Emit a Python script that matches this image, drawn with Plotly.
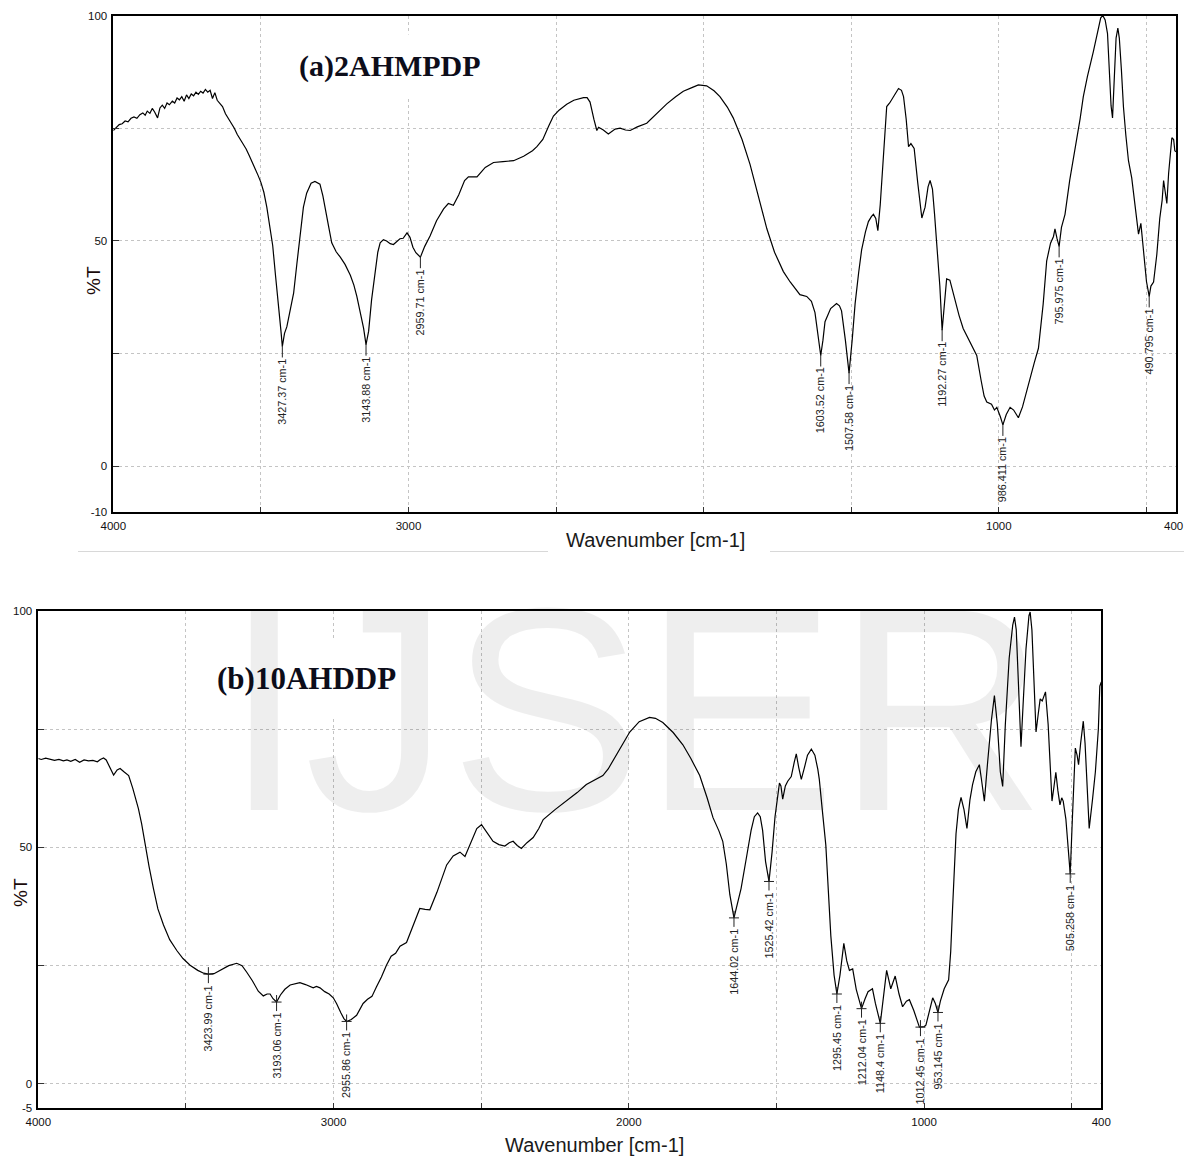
import numpy as np
import plotly.graph_objects as go

# ---------------- (a) 2AHMPDP spectrum ----------------
wn_a = [4000, 3990, 3980, 3970, 3960, 3950, 3940, 3930, 3920, 3910, 3900, 3892, 3885, 3876,
        3868, 3860, 3850, 3842, 3834, 3826, 3818, 3810, 3800, 3792, 3784, 3776, 3768, 3760,
        3752, 3744, 3736, 3728, 3720, 3712, 3704, 3696, 3688, 3680, 3672, 3664, 3656, 3648,
        3640, 3630, 3620, 3610, 3600, 3590, 3580, 3570, 3560, 3550, 3540, 3530, 3520, 3510,
        3500, 3490, 3480, 3470, 3460, 3450, 3440, 3432, 3427.37, 3420, 3412, 3400, 3389, 3378,
        3367, 3356, 3345, 3330, 3317, 3300, 3290, 3282, 3270, 3260, 3245, 3231, 3215, 3197,
        3185, 3175, 3162, 3152, 3143.88, 3135, 3125, 3113, 3104, 3096, 3085, 3074, 3062, 3051,
        3040, 3029, 3018, 3005, 2995, 2985, 2975, 2959.71, 2945, 2927, 2905, 2881, 2865, 2848,
        2830, 2810, 2797, 2768, 2740, 2712, 2680, 2644, 2610, 2580, 2565, 2545, 2525, 2509,
        2490, 2464, 2440, 2407, 2395, 2385, 2372, 2362, 2356, 2351, 2340, 2323, 2300, 2283,
        2265, 2249, 2225, 2193, 2160, 2125, 2095, 2069, 2040, 2018, 1990, 1965, 1945, 1920,
        1900, 1870, 1843, 1815, 1786, 1760, 1730, 1707, 1690, 1674, 1651, 1635, 1623, 1612,
        1603.52, 1596, 1589, 1570, 1550, 1540, 1533, 1520, 1507.58, 1497, 1487, 1475, 1465,
        1452, 1442, 1432, 1425, 1417, 1410, 1402, 1397, 1388, 1380, 1370, 1357, 1340, 1330,
        1323, 1314, 1306, 1298, 1287, 1275, 1261, 1250, 1240, 1233, 1225, 1218, 1210, 1200,
        1192.27, 1185, 1177, 1166, 1150, 1135, 1121, 1100, 1090, 1075, 1060, 1050, 1041, 1025,
        1015, 1007, 995, 986.411, 975, 962, 950, 934, 920, 905, 895, 880, 866, 850, 838, 825,
        815, 810, 803, 795.975, 788, 776, 760, 740, 725, 714, 700, 680, 665, 655, 648, 640,
        632, 626, 620, 615, 610, 603, 597, 592, 585, 578, 570, 561, 550, 540, 530, 527, 519,
        510, 500, 490.795, 485, 476, 465, 455, 447, 442, 436, 431, 425, 418, 414, 408, 404, 400]
t_a = [74.5, 75.2, 75.8, 76.0, 76.6, 76.4, 77.2, 77.5, 77.2, 78.0, 78.4, 77.9, 78.8, 78.3,
       79.4, 78.6, 77.3, 79.5, 80.1, 79.4, 80.6, 80.2, 81.0, 80.6, 81.7, 81.3, 82.0, 81.0,
       82.4, 81.6, 82.6, 82.2, 83.0, 82.5, 83.2, 82.8, 83.6, 83.0, 83.4, 81.6, 82.9, 81.2,
       80.6, 79.8, 78.2, 77.2, 76.0, 75.0, 73.6, 72.6, 71.4, 70.4, 69.0, 67.6, 66.2, 64.6,
       63.0, 60.8, 57.5, 53.5, 49.0, 42.0, 36.1, 30.0, 26.6, 29.5, 31.0, 35.0, 38.5, 45.0,
       51.9, 57.5, 60.6, 62.8, 63.2, 62.6, 60.0, 57.5, 53.0, 49.6, 47.6, 46.4, 44.8, 42.4,
       40.2, 37.7, 34.0, 30.6, 27.0, 30.0, 37.0, 43.2, 47.5, 49.6, 50.3, 50.0, 49.4, 49.2,
       49.8, 50.5, 50.6, 51.8, 50.8, 48.6, 47.4, 46.4, 48.8, 51.1, 54.5, 57.1, 58.3, 57.9,
       60.2, 63.4, 64.2, 64.2, 66.3, 67.4, 67.6, 67.8, 68.8, 70.0, 70.9, 72.5, 75.5, 77.7,
       79.0, 80.3, 81.2, 81.8, 81.8, 80.8, 77.0, 74.5, 75.2, 75.0, 74.6, 73.7, 74.8, 75.0,
       74.6, 74.5, 75.3, 76.1, 78.2, 80.4, 82.0, 83.2, 84.0, 84.6, 84.4, 83.3, 82.0, 79.7,
       77.3, 72.5, 67.0, 60.0, 52.7, 47.5, 43.2, 40.9, 39.4, 38.1, 37.7, 36.6, 34.1, 29.0,
       24.6, 28.0, 32.1, 35.0, 36.1, 35.6, 34.5, 28.0, 20.7, 28.0, 36.1, 43.0, 48.0,
       52.0, 54.3, 55.4, 55.9, 55.0, 52.3, 58.0, 63.0, 72.0, 79.8, 80.6, 82.0, 83.8, 83.4,
       82.0, 77.0, 70.9, 71.6, 70.5, 63.0, 55.1, 57.5, 62.0, 63.4, 61.5, 56.0, 49.6, 40.0,
       30.2, 36.0, 41.6, 41.3, 37.0, 33.5, 30.6, 27.8, 26.5, 24.6, 19.0, 15.6, 14.3, 13.8,
       12.5, 13.1, 11.0, 9.2, 11.5, 13.1, 12.5, 10.8, 13.2, 17.0, 19.5, 23.0, 26.2, 36.0, 45.6, 49.5,
       51.0, 52.7, 50.5, 48.8, 53.0, 55.9, 63.5, 71.0, 77.0, 82.0, 86.5, 92.0, 96.5, 99.5, 100.0, 99.0,
       96.0, 88.0, 80.0, 77.3, 85.0, 95.0, 97.2, 95.0, 88.0, 79.7, 73.5, 67.8, 64.0, 58.0, 52.0, 51.5, 53.9,
       47.0, 41.0, 37.7, 40.0, 40.9, 47.0, 55.0, 59.0, 63.4, 60.0, 58.3, 65.0, 70.5, 72.9, 72.5, 70.0, 69.8]
peaks_a = [3427.37, 3143.88, 2959.71, 1603.52, 1507.58, 1192.27, 986.411, 795.975, 490.795]
peak_text_a = ["3427.37 cm-1", "3143.88 cm-1", "2959.71 cm-1", "1603.52 cm-1", "1507.58 cm-1",
               "1192.27 cm-1", "986.411 cm-1", "795.975 cm-1", "490.795 cm-1"]

# ---------------- (b) 10AHDDP spectrum ----------------
wn_b = [4000, 3990, 3975, 3960, 3945, 3930, 3915, 3903, 3890, 3875, 3860, 3845, 3830, 3815,
        3800, 3790, 3779, 3770, 3760, 3745, 3733, 3723, 3710, 3694, 3680, 3661, 3650, 3638,
        3625, 3610, 3595, 3576, 3555, 3531, 3510, 3486, 3460, 3440, 3423.99, 3405, 3384, 3355,
        3328, 3310, 3294, 3275, 3255, 3238, 3225, 3215, 3205, 3193.06, 3180, 3165, 3147, 3130,
        3114, 3095, 3080, 3069, 3058, 3046, 3030, 3015, 3001, 2990, 2975, 2965, 2955.86, 2940,
        2922, 2910, 2900, 2885, 2870, 2855, 2838, 2821, 2805, 2790, 2775, 2753, 2730, 2708,
        2690, 2674, 2650, 2617, 2595, 2572, 2555, 2535, 2515, 2499, 2480, 2460, 2440, 2420,
        2405, 2392, 2378, 2364, 2345, 2324, 2305, 2290, 2250, 2211, 2175, 2144, 2110, 2088,
        2070, 2054, 2025, 1997, 1965, 1930, 1910, 1885, 1850, 1817, 1790, 1760, 1735, 1715,
        1695, 1682, 1670, 1658, 1644.02, 1632, 1620, 1600, 1586, 1575, 1564, 1555, 1547, 1537,
        1525.42, 1515, 1505, 1490, 1485, 1479, 1470, 1462, 1450, 1440, 1433, 1425, 1416, 1405,
        1395, 1382, 1370, 1360, 1355, 1345, 1333, 1316, 1305, 1295.45, 1285, 1272, 1262, 1253,
        1242, 1230, 1212.04, 1200, 1190, 1175, 1165, 1148.4, 1140, 1127, 1118, 1113, 1098, 1085,
        1073, 1060, 1050, 1035, 1016, 1012.45, 1000, 994, 983, 971, 962, 953.145, 945, 932, 917,
        910, 904, 898, 892, 884, 875, 865, 855, 845, 836, 825, 813, 805, 796, 785, 772, 762,
        752, 742, 734, 725, 712, 700, 694, 688, 680, 672, 665, 655, 645, 641, 635, 628, 621,
        614, 607, 600, 589, 580, 572, 567, 560, 554, 547, 540, 534, 529, 520, 512, 505.258,
        498, 493, 488, 482, 477, 470, 461, 455, 448, 441, 430, 420, 410, 405, 400]
t_b = [68.8, 68.6, 68.9, 68.7, 68.4, 68.6, 68.3, 68.5, 68.2, 68.6, 68.0, 68.5, 68.3, 68.4,
       68.1, 68.6, 68.9, 68.5, 67.2, 65.3, 66.4, 66.7, 66.0, 65.2, 62.5, 58.2, 55.0, 50.5,
       46.0, 41.3, 37.0, 33.6, 30.5, 28.2, 26.5, 25.1, 24.0, 23.4, 23.2, 23.3, 24.0, 25.0,
       25.5, 25.0, 23.6, 21.8, 19.6, 18.6, 19.0, 19.0, 18.0, 17.3, 18.8, 20.0, 20.9, 21.2,
       21.4, 21.0, 20.5, 20.3, 20.6, 20.3, 19.5, 19.0, 18.2, 17.0, 15.0, 13.8, 13.2, 13.6,
       14.5, 15.8, 17.0, 17.9, 18.5, 20.5, 22.6, 25.1, 27.0, 27.6, 29.1, 29.9, 33.5, 37.1,
       36.9, 36.8, 40.5, 46.3, 48.2, 49.0, 48.1, 51.0, 54.0, 54.8, 53.0, 51.3, 50.6, 50.3,
       51.0, 51.3, 50.4, 49.8, 51.0, 52.1, 54.0, 55.9, 58.0, 59.8, 61.6, 63.3, 64.5, 65.2,
       66.6, 68.3, 71.5, 74.4, 76.6, 77.5, 77.3, 76.4, 74.3, 71.7, 68.8, 65.2, 60.5, 56.3,
       53.5, 51.3, 46.5, 40.0, 35.1, 38.5, 41.3, 48.5, 53.6, 56.5, 57.3, 56.5, 53.6, 47.0,
       42.8, 49.0, 56.5, 63.6, 63.0, 60.2, 63.0, 64.0, 65.0, 68.0, 69.8, 67.0, 64.4, 67.0,
       69.5, 70.8, 69.5, 66.5, 64.4, 58.0, 50.5, 31.3, 23.0, 19.0, 23.0, 29.7, 26.0, 24.0,
       24.3, 20.0, 15.9, 18.0, 19.5, 20.1, 17.0, 12.8, 17.0, 24.0, 21.5, 20.1, 22.8, 19.0,
       16.3, 17.5, 17.8, 15.5, 12.0, 12.0, 12.1, 12.4, 15.5, 18.2, 17.0, 15.1, 17.5, 20.1, 22.0,
       28.0, 36.7, 45.0, 52.9, 58.0, 60.6, 58.0, 54.0, 60.0, 63.3, 66.0, 67.5, 64.0, 59.8, 68.0, 77.0, 82.1,
       76.0, 66.0, 62.9, 76.0, 90.0, 97.0, 98.7, 96.0, 84.0, 71.3, 80.0, 92.0, 99.0, 99.8, 96.0, 85.0, 74.4,
       78.0, 81.4, 81.0, 82.9, 76.0, 66.0, 59.8, 63.0, 65.9, 62.0, 59.0, 60.5, 59.8, 56.0, 50.0, 44.4,
       56.0, 65.0, 71.0, 69.5, 67.5, 72.0, 76.7, 72.0, 63.0, 54.0, 60.0, 66.0, 75.0, 84.1, 85.0]
peaks_b = [3423.99, 3193.06, 2955.86, 1644.02, 1525.42, 1295.45, 1212.04, 1148.4, 1012.45,
           953.145, 505.258]
peak_text_b = ["3423.99 cm-1", "3193.06 cm-1", "2955.86 cm-1", "1644.02 cm-1", "1525.42 cm-1",
               "1295.45 cm-1", "1212.04 cm-1", "1148.4 cm-1", "1012.45 cm-1", "953.145 cm-1",
               "505.258 cm-1"]

x_tickvals = [4000, 3500, 3000, 2500, 2000, 1500, 1000, 500, 400]
# the 400 label of panel (a) sits flush with the page edge, so it is placed separately
x_ticktext_a = ["4000", "", "3000", "", "", "", "1000", "", ""]
x_ticktext_b = ["4000", "", "3000", "", "2000", "", "1000", "", "400"]
y_tickvals_a = [-10, 0, 25, 50, 75, 100]
y_ticktext_a = ["-10", "0", "", "50", "", "100"]
y_tickvals_b = [-5, 0, 25, 50, 75, 100]
y_ticktext_b = ["-5", "0", "", "50", "", "100"]

W, H = 1184, 1161
SANS = "Liberation Sans, Arial, sans-serif"
SERIF = "Liberation Serif, Times New Roman, serif"


def px_x(p):
    return p / W


def px_y(p):
    return 1 - p / H


fig = go.Figure()
fig.add_trace(go.Scatter(x=wn_a, y=t_a, mode="lines", line=dict(color="black", width=1.2),
                         xaxis="x", yaxis="y", showlegend=False, hoverinfo="skip"))
fig.add_trace(go.Scatter(x=wn_b, y=t_b, mode="lines", line=dict(color="black", width=1.2),
                         xaxis="x2", yaxis="y2", showlegend=False, hoverinfo="skip"))


def xaxis_cfg(domain, anchor, ticktext):
    return dict(domain=domain, anchor=anchor, range=[4000, 400], tickvals=x_tickvals,
                ticktext=ticktext, ticks="inside", ticklen=5, tickcolor="#333",
                tickfont=dict(family=SANS, size=11.5, color="#111"), ticklabelstandoff=3,
                ticklabeloverflow="allow",
                showgrid=True, gridcolor="#c4c4c4", griddash="dot", gridwidth=1,
                showline=True, linecolor="black", linewidth=1.5, mirror=True,
                zeroline=False, fixedrange=True, automargin=False)


def yaxis_cfg(domain, anchor, rng, tv, tt):
    return dict(domain=domain, anchor=anchor, range=rng, tickvals=tv, ticktext=tt,
                ticks="inside", ticklen=6, tickcolor="#333",
                tickfont=dict(family=SANS, size=11.5, color="#111"), ticklabelstandoff=2,
                ticklabeloverflow="allow",
                showgrid=True, gridcolor="#c4c4c4", griddash="dot", gridwidth=1,
                showline=True, linecolor="black", linewidth=1.5, mirror=True,
                zeroline=False, fixedrange=True, automargin=False)


fig.update_layout(
    width=W, height=H, margin=dict(l=0, r=0, t=0, b=0, pad=0, autoexpand=False),
    paper_bgcolor="white", plot_bgcolor="white",
    xaxis=xaxis_cfg([px_x(113.3), px_x(1176)], "y", x_ticktext_a),
    yaxis=yaxis_cfg([px_y(511.5), px_y(15.5)], "x", [-10, 100], y_tickvals_a, y_ticktext_a),
    xaxis2=xaxis_cfg([px_x(38.3), px_x(1101.3)], "y2", x_ticktext_b),
    yaxis2=yaxis_cfg([px_y(1107.5), px_y(611)], "x2", [-5, 100], y_tickvals_b, y_ticktext_b),
)

shapes = []
annotations = []

# "400" end label of panel (a), right-aligned at the page edge
annotations.append(dict(text="400", x=px_x(1183.5), y=px_y(526), xref="paper", yref="paper",
                        showarrow=False, font=dict(family=SANS, size=11.5, color="#111"),
                        xanchor="right", yanchor="middle", borderpad=0))

# sample titles (white box hides the grid behind them)
annotations.append(dict(text="<b>(a)2AHMPDP</b>", x=px_x(390), y=px_y(66), xref="paper", yref="paper",
                        showarrow=False, font=dict(family=SERIF, size=30, color="#0d0d1a"),
                        bgcolor="white", borderpad=14, xanchor="center", yanchor="middle"))
annotations.append(dict(text="<b>(b)10AHDDP</b>", x=px_x(306), y=px_y(678), xref="paper", yref="paper",
                        showarrow=False, font=dict(family=SERIF, size=31, color="#0d0d1a"),
                        bgcolor="white", borderpad=20, xanchor="center", yanchor="middle"))

# axis titles
for (x, y) in [(93, 281), (20, 893)]:
    annotations.append(dict(text="%T", x=px_x(x), y=px_y(y), xref="paper", yref="paper",
                            showarrow=False, textangle=-90,
                            font=dict(family=SANS, size=19, color="#1a0a0a"),
                            xanchor="center", yanchor="middle"))
for (x, y) in [(655, 540), (594, 1145)]:
    annotations.append(dict(text="Wavenumber [cm-1]", x=px_x(x), y=px_y(y), xref="paper", yref="paper",
                            showarrow=False, font=dict(family=SANS, size=20, color="#1a1a1a"),
                            xanchor="center", yanchor="middle"))

# thin separator line between the two panels
for (x0, x1) in [(78, 548), (770, 1184)]:
    shapes.append(dict(type="line", xref="paper", yref="paper", x0=px_x(x0), x1=px_x(x1),
                       y0=px_y(551.5), y1=px_y(551.5), line=dict(color="#d8d8d8", width=1)))

# peak markers and rotated peak labels
for wn, txt in zip(peaks_a, peak_text_a):
    val = float(np.interp(wn, wn_a[::-1], t_a[::-1]))
    shapes.append(dict(type="line", xref="x", yref="y", x0=wn, x1=wn, ysizemode="pixel",
                       yanchor=val, y0=1, y1=-11, line=dict(color="#222", width=1)))
    annotations.append(dict(text=txt, x=wn, y=val, xref="x", yref="y", showarrow=False,
                            textangle=-90, xanchor="center", yanchor="top", yshift=-11,
                            font=dict(family=SANS, size=10.8, color="#222"), borderpad=0))

for wn, txt in zip(peaks_b, peak_text_b):
    val = float(np.interp(wn, wn_b[::-1], t_b[::-1]))
    shapes.append(dict(type="line", xref="x2", yref="y2", x0=wn, x1=wn, ysizemode="pixel",
                       yanchor=val, y0=7, y1=-9, line=dict(color="#222", width=1)))
    shapes.append(dict(type="line", xref="x2", yref="y2", y0=val, y1=val, xsizemode="pixel",
                       xanchor=wn, x0=-5, x1=5, line=dict(color="#222", width=1)))
    annotations.append(dict(text=txt, x=wn, y=val, xref="x2", yref="y2", showarrow=False,
                            textangle=-90, xanchor="center", yanchor="top", yshift=-10,
                            font=dict(family=SANS, size=10.8, color="#222"), borderpad=0))

# faint publisher watermark across the lower panel
annotations.append(dict(text="IJSER", x=px_x(635), y=px_y(709), xref="paper", yref="paper",
                        showarrow=False, font=dict(family=SANS, size=290, color="rgba(0,0,0,0.065)"),
                        xanchor="center", yanchor="middle"))

fig.update_layout(shapes=shapes, annotations=annotations)
fig.write_html("out.html")
